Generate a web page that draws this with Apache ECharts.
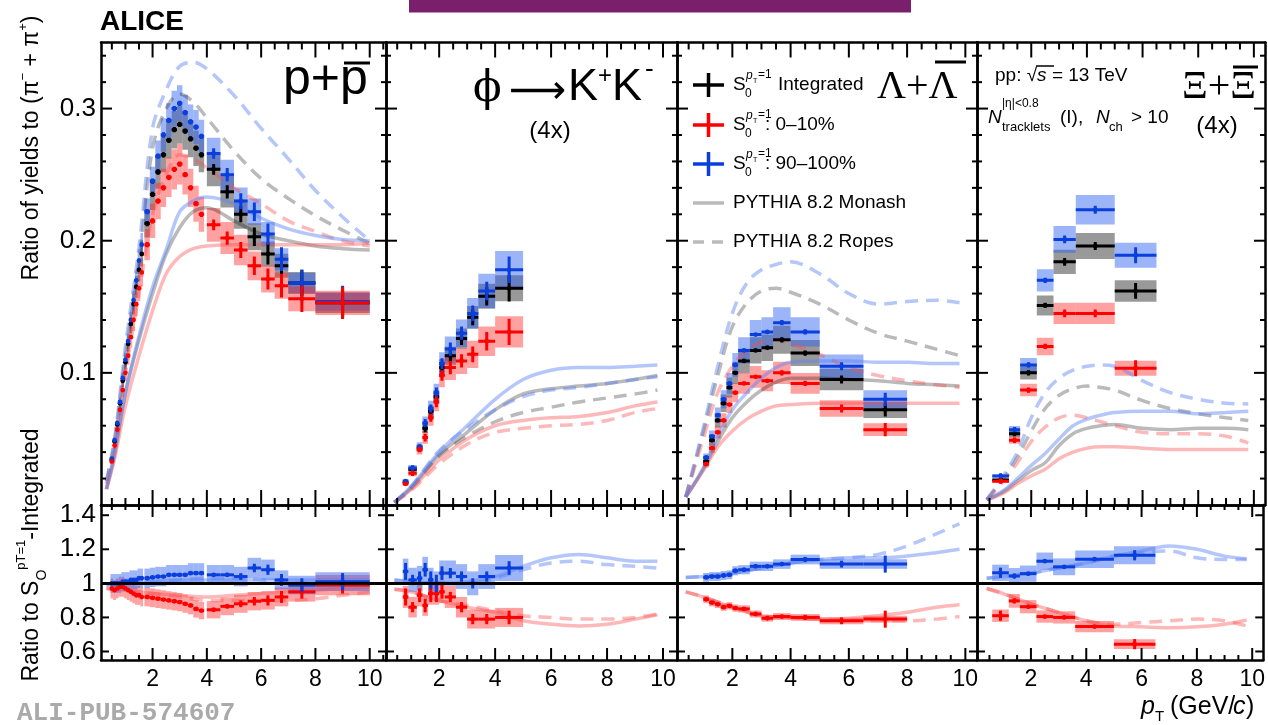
<!DOCTYPE html>
<html>
<head>
<meta charset="utf-8">
<title>ALICE yield ratios vs spherocity</title>
<script src="https://cdn.jsdelivr.net/npm/echarts@6.0.0/dist/echarts.min.js"></script>
<style>
  html, body { margin: 0; padding: 0; background: #fff; }
  #chart { width: 1268px; height: 725px; }
</style>
</head>
<body>
<div id="chart"></div>
<script>
// ---------- p + pbar ----------
const pX = [0.5, 0.6, 0.7, 0.8, 0.9, 1.0, 1.1, 1.2, 1.3, 1.4, 1.5, 1.6, 1.8, 2.0, 2.2, 2.4, 2.6, 2.8, 3.0, 3.2, 3.4, 3.6, 3.8, 4.25, 4.75, 5.25, 5.75, 6.25, 6.75, 7.5, 9.0];
const pHW = [0.05, 0.05, 0.05, 0.05, 0.05, 0.05, 0.05, 0.05, 0.05, 0.05, 0.05, 0.05, 0.1, 0.1, 0.1, 0.1, 0.1, 0.1, 0.1, 0.1, 0.1, 0.1, 0.1, 0.25, 0.25, 0.25, 0.25, 0.25, 0.25, 0.5, 1.0];
const pInt = [0.034, 0.048, 0.061, 0.077, 0.094, 0.108, 0.122, 0.137, 0.152, 0.165, 0.178, 0.19, 0.213, 0.235, 0.252, 0.265, 0.276, 0.284, 0.288, 0.283, 0.277, 0.27, 0.265, 0.254, 0.237, 0.22, 0.203, 0.19, 0.181, 0.168, 0.153];
const p010 = [0.033, 0.045, 0.057, 0.072, 0.087, 0.1, 0.113, 0.127, 0.14, 0.152, 0.164, 0.176, 0.197, 0.215, 0.23, 0.24, 0.248, 0.254, 0.258, 0.25, 0.24, 0.228, 0.22, 0.212, 0.202, 0.193, 0.181, 0.171, 0.166, 0.156, 0.153];
const p90100 = [0.035, 0.049, 0.062, 0.078, 0.096, 0.11, 0.124, 0.14, 0.155, 0.17, 0.185, 0.197, 0.222, 0.245, 0.264, 0.28, 0.291, 0.3, 0.304, 0.297, 0.29, 0.286, 0.279, 0.266, 0.25, 0.23, 0.222, 0.205, 0.186, 0.168, 0.154];
const pStat = [0.001, 0.001, 0.001, 0.001, 0.001, 0.001, 0.001, 0.001, 0.001, 0.001, 0.001, 0.001, 0.002, 0.002, 0.002, 0.002, 0.002, 0.002, 0.002, 0.002, 0.002, 0.002, 0.002, 0.004, 0.005, 0.006, 0.007, 0.008, 0.009, 0.01, 0.012];
const pSys = [0.05, 0.06, 0.045];            // relative: integrated, 0-10%, 90-100%
const pRat010 = [0.97, 0.96, 0.97, 0.98, 0.98, 0.97, 0.96, 0.95, 0.94, 0.93, 0.93, 0.92, 0.92, 0.915, 0.91, 0.905, 0.9, 0.895, 0.89, 0.88, 0.87, 0.85, 0.84, 0.845, 0.865, 0.88, 0.895, 0.9, 0.92, 0.95, 0.99];
const pRat90100 = [1.0, 1.0, 1.0, 1.0, 1.01, 1.01, 1.01, 1.02, 1.02, 1.02, 1.03, 1.03, 1.03, 1.035, 1.04, 1.04, 1.05, 1.05, 1.05, 1.05, 1.06, 1.06, 1.06, 1.05, 1.05, 1.04, 1.09, 1.08, 1.02, 0.99, 1.01];
const pRatStat = [0.005, 0.005, 0.005, 0.005, 0.005, 0.005, 0.005, 0.005, 0.005, 0.005, 0.005, 0.005, 0.008, 0.008, 0.008, 0.008, 0.008, 0.008, 0.008, 0.008, 0.008, 0.008, 0.008, 0.01, 0.012, 0.02, 0.025, 0.03, 0.035, 0.04, 0.05];
const pRatSys = [0.06, 0.055];               // relative: 0-10%, 90-100%
const pCurveX = [0.3, 0.6, 1.0, 1.5, 2.0, 2.5, 3.0, 3.5, 4.0, 5.0, 6.0, 7.0, 8.0, 9.0, 10.0];
const pMonInt = [0.012, 0.038, 0.085, 0.125, 0.16, 0.19, 0.21, 0.222, 0.225, 0.215, 0.205, 0.2, 0.196, 0.194, 0.193];
const pMon010 = [0.012, 0.035, 0.075, 0.113, 0.147, 0.175, 0.188, 0.194, 0.196, 0.197, 0.197, 0.197, 0.197, 0.197, 0.198];
const pMon90100 = [0.012, 0.04, 0.085, 0.128, 0.165, 0.193, 0.222, 0.23, 0.233, 0.228, 0.217, 0.209, 0.204, 0.201, 0.2];
const pRopInt = [0.018, 0.048, 0.113, 0.185, 0.27, 0.3, 0.311, 0.305, 0.293, 0.268, 0.247, 0.232, 0.219, 0.208, 0.198];
const pRop010 = [0.016, 0.045, 0.1, 0.16, 0.22, 0.25, 0.265, 0.262, 0.255, 0.24, 0.228, 0.215, 0.207, 0.2, 0.196];
const pRop90100 = [0.018, 0.05, 0.12, 0.195, 0.285, 0.314, 0.332, 0.335, 0.33, 0.31, 0.285, 0.262, 0.238, 0.218, 0.2];
const pRatCurveX = [0.3, 1, 2, 3, 4, 5, 6, 7, 8, 9, 10];
const pRatMon010 = [0.97, 0.96, 0.94, 0.93, 0.92, 0.93, 0.94, 0.95, 0.96, 0.97, 0.98];
const pRatMon90100 = [0.99, 1.0, 1.01, 1.02, 1.02, 1.02, 1.02, 1.02, 1.02, 1.02, 1.02];
const pRatRop010 = [0.97, 0.96, 0.94, 0.92, 0.9, 0.9, 0.9, 0.9, 0.91, 0.93, 0.95];
const pRatRop90100 = [0.99, 1.0, 1.01, 1.02, 1.03, 1.03, 1.02, 1.01, 1.0, 1.0, 1.0];

// ---------- phi -> K+K- (x4) ----------
const phiX = [0.8, 1.05, 1.3, 1.5, 1.7, 1.9, 2.1, 2.4, 2.8, 3.2, 3.7, 4.5];
const phiHW = [0.1, 0.15, 0.1, 0.1, 0.1, 0.1, 0.1, 0.2, 0.2, 0.2, 0.3, 0.5];
const phiInt = [0.017, 0.027, 0.043, 0.058, 0.071, 0.082, 0.104, 0.113, 0.126, 0.142, 0.158, 0.164];
const phi010 = [0.016, 0.024, 0.042, 0.051, 0.066, 0.078, 0.098, 0.104, 0.109, 0.114, 0.124, 0.131];
const phi90100 = [0.018, 0.028, 0.044, 0.062, 0.073, 0.085, 0.107, 0.118, 0.13, 0.145, 0.162, 0.178];
const phiStat = [0.001, 0.002, 0.002, 0.003, 0.003, 0.004, 0.004, 0.005, 0.005, 0.006, 0.007, 0.01];
const phiSys = [0.06, 0.09, 0.08];
const phiRat010 = [0.92, 0.86, 0.93, 0.87, 0.94, 0.94, 0.95, 0.92, 0.86, 0.79, 0.79, 0.80];
const phiRat90100 = [1.07, 1.02, 1.03, 1.08, 1.02, 1.0, 1.06, 1.06, 1.04, 1.0, 1.04, 1.09];
const phiRatStat = [0.05, 0.03, 0.04, 0.04, 0.05, 0.05, 0.04, 0.03, 0.03, 0.03, 0.03, 0.04];
const phiRatSys = [0.07, 0.07];
const phiCurveX = [0.4, 1, 2, 3, 4, 5, 6, 7, 8, 9, 9.8];
const phiMonInt = [0.002, 0.013, 0.038, 0.055, 0.072, 0.084, 0.088, 0.09, 0.092, 0.095, 0.098];
const phiMon010 = [0.002, 0.012, 0.034, 0.05, 0.06, 0.064, 0.066, 0.067, 0.07, 0.075, 0.078];
const phiMon90100 = [0.002, 0.014, 0.04, 0.06, 0.08, 0.095, 0.102, 0.104, 0.104, 0.105, 0.106];
const phiRopInt = [0.002, 0.013, 0.037, 0.052, 0.063, 0.07, 0.074, 0.078, 0.081, 0.084, 0.087];
const phiRop010 = [0.002, 0.011, 0.031, 0.046, 0.055, 0.058, 0.06, 0.061, 0.064, 0.07, 0.073];
const phiRop90100 = [0.002, 0.014, 0.041, 0.058, 0.072, 0.082, 0.087, 0.089, 0.092, 0.095, 0.097];
const phiRatCurveX = [0.4, 1, 2, 3, 4, 5, 6, 7, 8, 9, 9.8];
const phiRatMon010 = [0.965, 0.95, 0.9, 0.86, 0.83, 0.78, 0.76, 0.75, 0.76, 0.79, 0.815];
const phiRatMon90100 = [1.02, 1.01, 1.0, 1.01, 1.04, 1.1, 1.15, 1.17, 1.15, 1.13, 1.13];
const phiRatRop010 = [0.965, 0.95, 0.9, 0.87, 0.84, 0.81, 0.8, 0.79, 0.79, 0.8, 0.82];
const phiRatRop90100 = [1.02, 1.01, 1.0, 1.0, 1.03, 1.08, 1.12, 1.13, 1.11, 1.1, 1.09];

// ---------- Lambda + Lambdabar ----------
const lamX = [1.1, 1.3, 1.5, 1.7, 1.9, 2.1, 2.4, 2.8, 3.2, 3.7, 4.5, 5.75, 7.25];
const lamHW = [0.1, 0.1, 0.1, 0.1, 0.1, 0.1, 0.2, 0.2, 0.2, 0.3, 0.5, 0.75, 0.75];
const lamInt = [0.033, 0.049, 0.064, 0.077, 0.089, 0.1, 0.109, 0.117, 0.119, 0.125, 0.115, 0.095, 0.072];
const lam010 = [0.031, 0.043, 0.055, 0.064, 0.076, 0.085, 0.092, 0.097, 0.094, 0.1, 0.092, 0.073, 0.057];
const lam90100 = [0.036, 0.052, 0.068, 0.08, 0.092, 0.106, 0.117, 0.129, 0.131, 0.138, 0.131, 0.105, 0.08];
const lamStat = [0.001, 0.001, 0.001, 0.001, 0.001, 0.001, 0.001, 0.001, 0.001, 0.002, 0.002, 0.003, 0.005];
const lamSys = [0.085, 0.085, 0.085];
const lamRat010 = [0.906, 0.887, 0.877, 0.86, 0.868, 0.855, 0.85, 0.82, 0.795, 0.805, 0.80, 0.78, 0.79];
const lamRat90100 = [1.035, 1.04, 1.04, 1.046, 1.05, 1.074, 1.08, 1.10, 1.10, 1.113, 1.14, 1.113, 1.113];
const lamRatStat = [0.01, 0.01, 0.01, 0.01, 0.01, 0.01, 0.01, 0.01, 0.01, 0.01, 0.015, 0.02, 0.05];
const lamRatSys = [0.025, 0.025];
const lamCurveX = [0.4, 1, 1.5, 2, 2.5, 3, 3.5, 4, 5, 6, 7, 8, 9, 9.8];
const lamMonInt = [0.006, 0.027, 0.048, 0.066, 0.078, 0.087, 0.093, 0.096, 0.096, 0.095, 0.094, 0.092, 0.091, 0.09];
const lamMon010 = [0.006, 0.026, 0.044, 0.056, 0.065, 0.071, 0.075, 0.076, 0.077, 0.077, 0.077, 0.077, 0.077, 0.077];
const lamMon90100 = [0.006, 0.028, 0.052, 0.072, 0.085, 0.096, 0.104, 0.108, 0.109, 0.109, 0.108, 0.108, 0.107, 0.107];
const lamRopInt = [0.006, 0.055, 0.098, 0.135, 0.153, 0.162, 0.164, 0.161, 0.152, 0.14, 0.13, 0.124, 0.118, 0.113];
const lamRop010 = [0.006, 0.05, 0.085, 0.105, 0.117, 0.123, 0.125, 0.122, 0.114, 0.104, 0.098, 0.094, 0.091, 0.089];
const lamRop90100 = [0.006, 0.058, 0.105, 0.145, 0.168, 0.178, 0.182, 0.184, 0.175, 0.16, 0.152, 0.154, 0.155, 0.153];
const lamRatCurveX = [0.4, 1, 2, 3, 4, 5, 6, 7, 8, 9, 9.8];
const lamRatMon010 = [0.95, 0.92, 0.86, 0.81, 0.8, 0.79, 0.795, 0.81, 0.83, 0.86, 0.875];
const lamRatMon90100 = [1.035, 1.04, 1.06, 1.09, 1.12, 1.14, 1.15, 1.15, 1.16, 1.18, 1.2];
const lamRatRop010 = [0.95, 0.92, 0.86, 0.81, 0.8, 0.79, 0.785, 0.78, 0.78, 0.79, 0.805];
const lamRatRop90100 = [1.035, 1.04, 1.06, 1.09, 1.12, 1.14, 1.15, 1.17, 1.22, 1.29, 1.35];

// ---------- Xi + Xibar (x4) ----------
const xiX = [0.9, 1.4, 1.9, 2.5, 3.2, 4.3, 5.75];
const xiHW = [0.3, 0.2, 0.3, 0.3, 0.4, 0.7, 0.75];
const xiInt = [0.019, 0.054, 0.1, 0.151, 0.184, 0.196, 0.162];
const xi010 = [0.018, 0.049, 0.087, 0.12, 0.145, 0.145, 0.1035];
const xi90100 = [0.022, 0.057, 0.106, 0.17, 0.201, 0.2235, 0.189];
const xiStat = [0.002, 0.002, 0.002, 0.002, 0.003, 0.003, 0.006];
const xiSys = [0.05, 0.055, 0.05];
const xiRat010 = [0.81, 0.897, 0.863, 0.805, 0.8, 0.746, 0.643];
const xiRat90100 = [1.062, 1.043, 1.057, 1.13, 1.097, 1.142, 1.165];
const xiRatStat = [0.03, 0.015, 0.01, 0.01, 0.01, 0.01, 0.03];
const xiRatSys = [0.045, 0.045];
const xiCurveX = [0.4, 1, 1.5, 2, 2.5, 3, 3.5, 4, 4.5, 5, 6, 7, 8, 9, 9.8];
const xiMonInt = [0.004, 0.01, 0.018, 0.026, 0.032, 0.045, 0.054, 0.058, 0.06, 0.061, 0.058, 0.057, 0.058, 0.058, 0.057];
const xiMon010 = [0.004, 0.009, 0.016, 0.022, 0.027, 0.035, 0.04, 0.043, 0.044, 0.044, 0.043, 0.042, 0.042, 0.042, 0.042];
const xiMon90100 = [0.004, 0.011, 0.02, 0.03, 0.039, 0.05, 0.06, 0.065, 0.068, 0.07, 0.071, 0.071, 0.069, 0.07, 0.071];
const xiRopInt = [0.004, 0.02, 0.036, 0.056, 0.073, 0.083, 0.088, 0.09, 0.089, 0.087, 0.079, 0.073, 0.069, 0.066, 0.064];
const xiRop010 = [0.004, 0.018, 0.032, 0.048, 0.059, 0.066, 0.068, 0.066, 0.063, 0.06, 0.055, 0.054, 0.054, 0.052, 0.047];
const xiRop90100 = [0.004, 0.022, 0.04, 0.066, 0.085, 0.096, 0.102, 0.105, 0.106, 0.105, 0.094, 0.085, 0.08, 0.077, 0.0765];
const xiRatCurveX = [0.4, 1, 2, 3, 4, 5, 6, 7, 8, 9, 9.8];
const xiRatMon010 = [0.97, 0.94, 0.88, 0.83, 0.78, 0.75, 0.745, 0.74, 0.745, 0.76, 0.785];
const xiRatMon90100 = [1.03, 1.04, 1.06, 1.09, 1.12, 1.16, 1.19, 1.22, 1.2, 1.16, 1.145];
const xiRatRop010 = [0.97, 0.94, 0.88, 0.83, 0.78, 0.76, 0.77, 0.78, 0.79, 0.78, 0.75];
const xiRatRop90100 = [1.03, 1.04, 1.06, 1.09, 1.12, 1.16, 1.18, 1.19, 1.15, 1.14, 1.14];

// axis ticks
const xMajor = [2, 4, 6, 8, 10];
const topYTicks = [0.1, 0.2, 0.3];
const ratioYTicks = [0.6, 0.8, 1, 1.2, 1.4];

// ---------- style ----------
const FONT = '"Liberation Sans", Arial, Helvetica, sans-serif';
const SERIF = '"Liberation Serif", "DejaVu Serif", serif';
const COL = ['#000000', '#ff0000', '#0b3fdc'];                                   // int, 0-10, 90-100
const BOX = ['rgba(0,0,0,0.4)', 'rgba(255,30,30,0.42)', 'rgba(45,95,240,0.47)'];
const MODEL = ['rgba(0,0,0,0.27)', 'rgba(250,80,80,0.4)', 'rgba(90,130,245,0.45)'];
const DASH = [13, 8];

const cols = [
  {left: 101, width: 285, min: 0.1, max: 10.6},
  {left: 386, width: 291, min: 0.1, max: 10.5},
  {left: 677, width: 300, min: 0.1, max: 10.4},
  {left: 977, width: 288, min: 0.05, max: 10.4}
];
const rows = [{top: 42.5, height: 462.5, min: 0, max: 0.35}, {top: 505, height: 155, min: 0.55, max: 1.46}];

const panels = [
  {x: pX, hw: pHW, vals: [pInt, p010, p90100], stat: pStat, sys: pSys,
   rat: [pRat010, pRat90100], ratStat: pRatStat, ratSys: pRatSys,
   cx: pCurveX, mon: [pMonInt, pMon010, pMon90100], rop: [pRopInt, pRop010, pRop90100],
   rcx: pRatCurveX, rmon: [pRatMon010, pRatMon90100], rrop: [pRatRop010, pRatRop90100]},
  {x: phiX, hw: phiHW, vals: [phiInt, phi010, phi90100], stat: phiStat, sys: phiSys,
   rat: [phiRat010, phiRat90100], ratStat: phiRatStat, ratSys: phiRatSys,
   cx: phiCurveX, mon: [phiMonInt, phiMon010, phiMon90100], rop: [phiRopInt, phiRop010, phiRop90100],
   rcx: phiRatCurveX, rmon: [phiRatMon010, phiRatMon90100], rrop: [phiRatRop010, phiRatRop90100]},
  {x: lamX, hw: lamHW, vals: [lamInt, lam010, lam90100], stat: lamStat, sys: lamSys,
   rat: [lamRat010, lamRat90100], ratStat: lamRatStat, ratSys: lamRatSys,
   cx: lamCurveX, mon: [lamMonInt, lamMon010, lamMon90100], rop: [lamRopInt, lamRop010, lamRop90100],
   rcx: lamRatCurveX, rmon: [lamRatMon010, lamRatMon90100], rrop: [lamRatRop010, lamRatRop90100]},
  {x: xiX, hw: xiHW, vals: [xiInt, xi010, xi90100], stat: xiStat, sys: xiSys,
   rat: [xiRat010, xiRat90100], ratStat: xiRatStat, ratSys: xiRatSys,
   cx: xiCurveX, mon: [xiMonInt, xiMon010, xiMon90100], rop: [xiRopInt, xiRop010, xiRop90100],
   rcx: xiRatCurveX, rmon: [xiRatMon010, xiRatMon90100], rrop: [xiRatRop010, xiRatRop90100]}
];

// ---------- axes ----------
const grids = [], xAxes = [], yAxes = [];
const frameLine = {show: true, onZero: false, lineStyle: {color: '#000', width: 2.5}};

rows.forEach((row, r) => {
  cols.forEach((c, ci) => {
    const g = grids.length;
    grids.push({left: c.left, top: row.top, width: c.width, height: row.height, show: false});
    ['bottom', 'top'].forEach(pos => xAxes.push({
      type: 'value', gridIndex: g, position: pos, min: c.min, max: c.max,
      axisLine: frameLine, axisTick: {show: false}, splitLine: {show: false},
      axisLabel: {show: pos === 'bottom' && r === 1, customValues: xMajor,
        fontSize: 23, fontFamily: FONT, color: '#000', margin: 8}
    }));
    ['left', 'right'].forEach(pos => yAxes.push({
      type: 'value', gridIndex: g, position: pos, min: row.min, max: row.max,
      axisLine: frameLine, axisTick: {show: false}, splitLine: {show: false},
      axisLabel: {show: pos === 'left' && ci === 0, customValues: r === 0 ? topYTicks : ratioYTicks,
        formatter: v => r === 0 ? v.toFixed(1) : String(v),
        fontSize: 26, fontFamily: FONT, color: '#000', margin: 5}
    }));
  });
});

// ---------- render helpers ----------
function renderBox(params, api) {
  const x = api.value(0), y = api.value(1), hw = api.value(2), s = api.value(3);
  const a = api.coord([x - hw, y + s]), b = api.coord([x + hw, y - s]);
  return {type: 'rect', shape: {x: a[0], y: a[1], width: b[0] - a[0], height: b[1] - a[1]},
    style: {fill: api.visual('color')}};
}
function renderPoint(params, api) {
  const x = api.value(0), y = api.value(1), hw = api.value(2), e = api.value(3);
  const c = api.coord([x, y]), l = api.coord([x - hw, y]), r = api.coord([x + hw, y]);
  const t = api.coord([x, y + e]), b = api.coord([x, y - e]);
  const col = api.visual('color');
  return {type: 'group', children: [
    {type: 'line', shape: {x1: l[0], y1: c[1], x2: r[0], y2: c[1]}, style: {stroke: col, lineWidth: 3}},
    {type: 'line', shape: {x1: c[0], y1: t[1], x2: c[0], y2: b[1]}, style: {stroke: col, lineWidth: 3}},
    {type: 'circle', shape: {cx: c[0], cy: c[1], r: 2.4}, style: {fill: col}}
  ]};
}
// tick marks: item = [x, y, len, horizontal]; drawn as small filled bars via the axis scales
function makeTickRenderer(c, row) {
  return function (params, api) {
    const x = api.value(0), y = api.value(1), len = api.value(2), horiz = api.value(3);
    const lo = api.coord([c.min, row.min]), hi = api.coord([c.max, row.max]);
    const p = api.coord([x, y]);
    if (horiz) {
      return {type: 'group', children: [
        {type: 'rect', shape: {x: lo[0], y: p[1] - 1, width: len, height: 2}, style: {fill: '#000'}},
        {type: 'rect', shape: {x: hi[0] - len, y: p[1] - 1, width: len, height: 2}, style: {fill: '#000'}}
      ]};
    }
    return {type: 'group', children: [
      {type: 'rect', shape: {x: p[0] - 1, y: lo[1] - len, width: 2, height: len}, style: {fill: '#000'}},
      {type: 'rect', shape: {x: p[0] - 1, y: hi[1], width: 2, height: len}, style: {fill: '#000'}}
    ]};
  };
}
function boxSeries(g, data, color) {
  return {type: 'custom', xAxisIndex: g * 2, yAxisIndex: g * 2, renderItem: renderBox,
    itemStyle: {color}, data, clip: true, silent: true, z: 2};
}
function pointSeries(g, data, color) {
  return {type: 'custom', xAxisIndex: g * 2, yAxisIndex: g * 2, renderItem: renderPoint,
    itemStyle: {color}, data, clip: true, silent: true, z: 4};
}
function curveSeries(g, xs, ys, color, dashed) {
  return {type: 'line', xAxisIndex: g * 2, yAxisIndex: g * 2, data: xs.map((x, i) => [x, ys[i]]),
    smooth: 0.35, showSymbol: false, symbol: 'none', silent: true, z: 3,
    lineStyle: {color, width: 3.5, type: dashed ? DASH : 'solid', cap: 'butt'}};
}

const series = [];
panels.forEach((P, c) => {
  const top = c, bot = c + 4;
  [0, 2, 1].forEach(k => series.push(boxSeries(top,
    P.x.map((x, i) => [x, P.vals[k][i], P.hw[i], P.vals[k][i] * P.sys[k]]), BOX[k])));
  [0, 1, 2].forEach(k => {
    series.push(curveSeries(top, P.cx, P.mon[k], MODEL[k], false));
    series.push(curveSeries(top, P.cx, P.rop[k], MODEL[k], true));
  });
  [0, 2, 1].forEach(k => series.push(pointSeries(top,
    P.x.map((x, i) => [x, P.vals[k][i], P.hw[i], P.stat[i]]), COL[k])));

  [0, 1].forEach(j => series.push(boxSeries(bot,
    P.x.map((x, i) => [x, P.rat[j][i], P.hw[i], P.rat[j][i] * P.ratSys[j]]), BOX[j + 1])));
  [0, 1].forEach(j => {
    series.push(curveSeries(bot, P.rcx, P.rmon[j], MODEL[j + 1], false));
    series.push(curveSeries(bot, P.rcx, P.rrop[j], MODEL[j + 1], true));
  });
  series[series.length - 1].markLine = {silent: true, symbol: 'none', label: {show: false},
    lineStyle: {color: '#000', width: 3, type: 'solid'}, data: [{yAxis: 1}]};
  [0, 1].forEach(j => series.push(pointSeries(bot,
    P.x.map((x, i) => [x, P.rat[j][i], P.hw[i], P.ratStat[i]]), COL[j + 1])));
});

// tick series for every panel
rows.forEach((row, r) => {
  cols.forEach((c, ci) => {
    const g = r * 4 + ci, items = [];
    const bigX = r === 0 ? 15 : 12, smallX = r === 0 ? 7 : 5;
    for (let v = 0.5; v < c.max; v += 0.5) {
      if (v <= c.min) continue;
      items.push([v, row.min, v % 2 === 0 ? bigX : smallX, 0]);
    }
    if (r === 0) {
      for (let k = 1; k * 0.02 < row.max; k++) items.push([c.min, k * 0.02, k % 5 === 0 ? 11 : 5, 1]);
    } else {
      ratioYTicks.forEach(v => items.push([c.min, v, 8, 1]));
    }
    series.push({type: 'custom', xAxisIndex: g * 2, yAxisIndex: g * 2, renderItem: makeTickRenderer(c, row),
      data: items, clip: false, silent: true, z: 8});
  });
});

// ---------- annotations ----------
function txt(x, y, text, size, extra) {
  return {type: 'text', x, y, silent: true, z: 10,
    style: Object.assign({text, fontSize: size, fontFamily: FONT, fill: '#000',
      align: 'left', verticalAlign: 'middle', textAlign: 'left', textVerticalAlign: 'middle'}, extra || {})};
}
function seg(x1, y1, x2, y2, color, width, dash) {
  return {type: 'line', silent: true, z: 20, shape: {x1, y1, x2, y2},
    style: {stroke: color, lineWidth: width, lineDash: dash || null}};
}
function hline(x1, x2, y, color, width, dash) { return seg(x1, y, x2, y, color, width, dash); }
function vline(x, y1, y2, color, width) { return seg(x, y1, x, y2, color, width); }
function sLabel(x, y) {
  return [
    txt(x, y, 'S', 19),
    txt(x + 13, y - 9, 'p', 12, {fontStyle: 'italic'}),
    txt(x + 20, y - 4, 'T', 7),
    txt(x + 25, y - 10, '=1', 12),
    txt(x + 12, y + 9, '0', 12)
  ];
}

const gfx = [
  {type: 'rect', silent: true, shape: {x: 409, y: 0, width: 502, height: 12.5}, style: {fill: '#7a1f6b'}},
  txt(100, 22, 'ALICE', 28, {fontWeight: 'bold'}),
  txt(17, 713, 'ALI-PUB-574607', 26, {fontFamily: '"Liberation Mono", "DejaVu Sans Mono", monospace', fontWeight: 'bold', fill: '#aaaaaa'}),
  // y-axis titles
  {type: 'text', x: 32, y: 148, rotation: Math.PI / 2, silent: true,
    style: {text: 'Ratio of yields to (π{sup|−} + π{sup|+})', fontSize: 23, fontFamily: FONT, fill: '#000',
      align: 'center', verticalAlign: 'middle', textAlign: 'center', textVerticalAlign: 'middle',
      rich: {sup: {fontSize: 13, fontFamily: FONT, verticalAlign: 'top', lineHeight: 30}}}},
  {type: 'text', x: 32, y: 555, rotation: Math.PI / 2, silent: true,
    style: {text: 'Ratio to S{sub|O}{sup|pT=1}-Integrated', fontSize: 23, fontFamily: FONT, fill: '#000',
      align: 'center', verticalAlign: 'middle', textAlign: 'center', textVerticalAlign: 'middle',
      rich: {sup: {fontSize: 13, fontFamily: FONT, verticalAlign: 'top', lineHeight: 34},
             sub: {fontSize: 14, fontFamily: FONT, verticalAlign: 'bottom', lineHeight: 34}}}},
  // x-axis title
  txt(1141, 707, 'p', 25, {fontStyle: 'italic'}),
  txt(1155, 717, 'T', 15),
  txt(1170, 707, '(GeV/', 25),
  txt(1233, 707, 'c', 25, {fontStyle: 'italic'}),
  txt(1246, 707, ')', 25),
  // panel titles
  txt(283, 80, 'p+p', 50),
  hline(344, 370, 63, '#000', 3),
  txt(473, 90, 'ϕ', 42, {fontFamily: '"DejaVu Serif", serif'}),
  txt(509, 93, '⟶', 40, {fontFamily: '"DejaVu Sans", sans-serif'}),
  txt(568, 88, 'K', 45),
  txt(598, 76, '+', 24),
  txt(612, 88, 'K', 45),
  txt(645, 70, '-', 26),
  txt(550, 131, '(4x)', 24, {align: 'center', textAlign: 'center'}),
  txt(877, 87, 'Λ+Λ', 40, {fontFamily: SERIF}),
  hline(935, 966, 62, '#000', 3),
  txt(1182, 87, 'Ξ+Ξ', 40, {fontFamily: SERIF}),
  hline(1233, 1258, 67, '#000', 3),
  txt(1217, 126, '(4x)', 24, {align: 'center', textAlign: 'center'}),
  // collision system
  txt(995, 76, 'pp: √{i|s} = 13 TeV', 19, {rich: {i: {fontStyle: 'italic', fontSize: 19, fontFamily: FONT}}}),
  hline(1036, 1054, 66, '#000', 1.5),
  txt(988, 118, 'N', 19, {fontStyle: 'italic'}),
  txt(1002, 104, '|η|<0.8', 12),
  txt(1002, 127, 'tracklets', 13),
  txt(1060, 118, '(I),', 19),
  txt(1096, 118, 'N', 19, {fontStyle: 'italic'}),
  txt(1109, 127, 'ch', 13),
  txt(1131, 118, '> 10', 19),
  // legend
  hline(693, 724, 85, COL[0], 3.5), vline(708.5, 73, 97, COL[0], 3.5),
  ...sLabel(733, 85),
  txt(778, 85, 'Integrated', 19),
  hline(693, 724, 125, COL[1], 3.5), vline(708.5, 113, 137, COL[1], 3.5),
  ...sLabel(733, 125),
  txt(765, 125, ': 0–10%', 19),
  hline(693, 724, 164, COL[2], 3.5), vline(708.5, 152, 176, COL[2], 3.5),
  ...sLabel(733, 164),
  txt(765, 164, ': 90–100%', 19),
  hline(693, 724, 203, 'rgba(0,0,0,0.27)', 3.5),
  txt(733, 203, 'PYTHIA 8.2 Monash', 19),
  hline(693, 724, 242, 'rgba(0,0,0,0.27)', 3.5, [11, 8]),
  txt(733, 242, 'PYTHIA 8.2 Ropes', 19)
];

const chart = echarts.init(document.getElementById('chart'), null, {renderer: 'canvas'});
chart.setOption({
  animation: false,
  backgroundColor: '#fff',
  grid: grids,
  xAxis: xAxes,
  yAxis: yAxes,
  series,
  graphic: {elements: gfx}
});
</script>
</body>
</html>
